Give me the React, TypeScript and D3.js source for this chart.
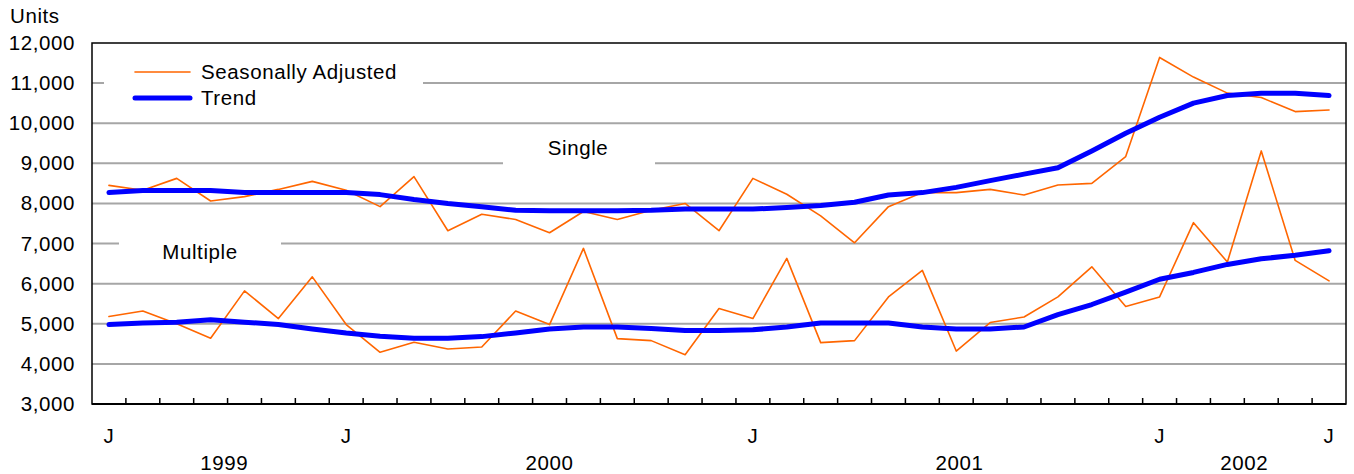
import { useEffect, useRef } from 'react'
import * as d3 from 'd3'

// Monthly, June 1999 to June 2002
const monthLetters = ['J','J','A','S','O','N','D','J','F','M','A','M','J','J','A','S','O','N','D','J','F','M','A','M','J','J','A','S','O','N','D','J','F','M','A','M','J']
const shownMonthIdx = [0, 7, 19, 31, 36]
const years = [
  { label: '1999', at: 3.4 },
  { label: '2000', at: 13 },
  { label: '2001', at: 25.1 },
  { label: '2002', at: 33.5 },
]
const singleSA = [8450, 8330, 8625, 8060, 8170, 8350, 8550, 8330, 7920, 8670, 7320, 7730, 7600, 7270, 7800, 7600, 7830, 8000, 7320,
  8625, 8230, 7690, 7020, 7920, 8270, 8270, 8350, 8210, 8460, 8500, 9170, 11640, 11150, 10750, 10640, 10290, 10330]
const singleTrend = [8270, 8320, 8320, 8320, 8270, 8270, 8270, 8270, 8220, 8100, 8000, 7920, 7830, 7820, 7820, 7820, 7830, 7860, 7860,
  7860, 7900, 7950, 8030, 8210, 8270, 8400, 8570, 8730, 8890, 9310, 9750, 10150, 10500, 10690, 10750, 10750, 10690]
const multiSA = [5180, 5320, 5000, 4640, 5820, 5130, 6170, 4980, 4290, 4540, 4370, 4420, 5320, 4980, 6880, 4630, 4580, 4230, 5380,
  5130, 6630, 4530, 4580, 5670, 6330, 4320, 5030, 5170, 5670, 6420, 5430, 5670, 7520, 6540, 9310, 6580, 6070]
const multiTrend = [4980, 5020, 5040, 5100, 5040, 4980, 4870, 4770, 4690, 4640, 4640, 4680, 4770, 4870, 4920, 4920, 4880, 4830, 4830,
  4850, 4920, 5020, 5020, 5020, 4920, 4870, 4870, 4920, 5230, 5480, 5790, 6110, 6280, 6480, 6620, 6710, 6820]
const yTicks = [3000, 4000, 5000, 6000, 7000, 8000, 9000, 10000, 11000, 12000]

export default function App() {
  const ref = useRef<SVGSVGElement | null>(null)

  useEffect(() => {
    const svg = d3.select(ref.current)
    svg.selectAll('*').remove()
    const L = 92, R = 1346, T = 43, B = 404
    const font = 'Arial, "Liberation Sans", sans-serif'
    const fs = 20.5
    const ls = '0.6px'
    const x = d3.scaleBand<number>().domain(d3.range(37)).range([L, R])
    // centre of month i (fractional i allowed for year labels)
    const cx = (i: number) => x(0)! + x.bandwidth() / 2 + i * x.step()
    const y = d3.scaleLinear().domain([3000, 12000]).range([B, T])
    const txt = (sel: any) => sel.attr('font-family', font).attr('font-size', fs).attr('letter-spacing', ls)

    // gridlines
    svg.append('g').selectAll('line').data(yTicks.slice(1, -1)).enter().append('line')
      .attr('x1', L).attr('x2', R).attr('y1', d => y(d)).attr('y2', d => y(d))
      .attr('stroke', '#a6a6a6').attr('stroke-width', 2)

    // white label boxes masking gridlines
    svg.append('rect').attr('x', 104).attr('y', 55).attr('width', 319).attr('height', 62).attr('fill', '#fff')
    svg.append('rect').attr('x', 503).attr('y', 130).attr('width', 152).attr('height', 36).attr('fill', '#fff')
    svg.append('rect').attr('x', 119).attr('y', 232).attr('width', 162).attr('height', 36).attr('fill', '#fff')

    // y labels
    svg.append('g').selectAll('text').data(yTicks).enter().append('text')
      .attr('x', 75).attr('y', d => y(d) + 7).attr('text-anchor', 'end')
      .call(txt).text(d => d3.format(',')(d))
    svg.append('text').attr('x', 10).attr('y', 23).call(txt).text('Units')

    const line = d3.line<number>().x((_, i) => cx(i)).y(d => y(d))
    const drawLine = (data: number[], color: string, w: number) =>
      svg.append('path').datum(data).attr('d', line).attr('fill', 'none')
        .attr('stroke', color).attr('stroke-width', w).attr('stroke-linejoin', 'round').attr('stroke-linecap', 'round')
    drawLine(singleSA, '#ff6600', 1.6)
    drawLine(multiSA, '#ff6600', 1.6)
    drawLine(singleTrend, '#0000ff', 5)
    drawLine(multiTrend, '#0000ff', 5)

    // frame
    svg.append('rect').attr('x', L).attr('y', T).attr('width', R - L).attr('height', B - T)
      .attr('fill', 'none').attr('stroke', '#000').attr('stroke-width', 1.5)
    svg.append('line').attr('x1', L).attr('x2', R).attr('y1', B).attr('y2', B).attr('stroke', '#000').attr('stroke-width', 2)
    svg.append('g').selectAll('line').data(d3.range(1, 37)).enter().append('line')
      .attr('x1', d => x(d)!).attr('x2', d => x(d)!).attr('y1', B).attr('y2', B - 6)
      .attr('stroke', '#000').attr('stroke-width', 1.5)

    // x labels
    svg.append('g').selectAll('text').data(shownMonthIdx).enter().append('text')
      .attr('x', d => cx(d)).attr('y', 443).attr('text-anchor', 'middle')
      .call(txt).text(d => monthLetters[d])
    svg.append('g').selectAll('text').data(years).enter().append('text')
      .attr('x', d => cx(d.at)).attr('y', 470).attr('text-anchor', 'middle')
      .call(txt).text(d => d.label)

    // series labels
    svg.append('text').attr('x', 578).attr('y', 155).attr('text-anchor', 'middle').call(txt).text('Single')
    svg.append('text').attr('x', 200).attr('y', 259).attr('text-anchor', 'middle').call(txt).text('Multiple')

    // legend
    const leg = [{ label: 'Seasonally Adjusted', color: '#ff6600', w: 1.6 }, { label: 'Trend', color: '#0000ff', w: 5 }]
    leg.forEach((it, i) => {
      const ly = 72 + i * 26
      svg.append('line').attr('x1', 135).attr('x2', 190).attr('y1', ly).attr('y2', ly)
        .attr('stroke', it.color).attr('stroke-width', it.w).attr('stroke-linecap', 'round')
      svg.append('text').attr('x', 201).attr('y', ly + 7).call(txt).text(it.label)
    })
  }, [])

  return <svg ref={ref} width={1354} height={474} style={{ position: 'absolute', left: 0, top: 0, background: '#fff' }} />
}
